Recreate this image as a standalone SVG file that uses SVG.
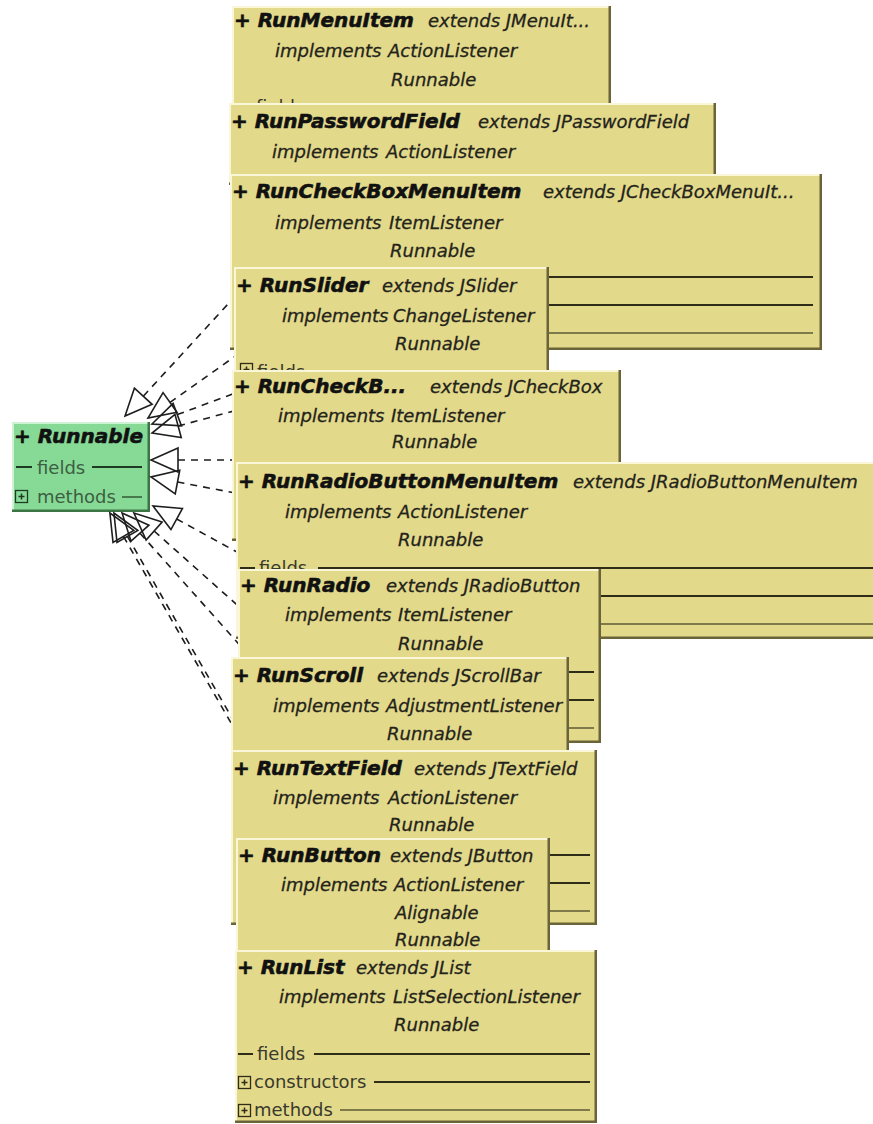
<svg xmlns="http://www.w3.org/2000/svg" xmlns:xlink="http://www.w3.org/1999/xlink" width="873" height="1124" viewBox="0 0 873 1124">
<style>
text{font-family:"DejaVu Sans","Liberation Sans",sans-serif}
.bg{fill:#e2d98b}
.hl{fill:none;stroke:#faf6d8;stroke-width:2}
.sh{fill:none;stroke:#6a6438;stroke-width:2.5}
.gbg{fill:#86da96}
.ghl{fill:none;stroke:#cdf3d4;stroke-width:2}
.gsh{fill:none;stroke:#3c7444;stroke-width:2.5}
.t{font-size:20px;font-weight:bold;font-style:italic;fill:#111;stroke:#111;stroke-width:0.6}
.i{font-size:18px;font-style:italic;fill:#24231a;stroke:#24231a;stroke-width:0.3}
.s{font-size:18px;fill:#3a392c}
.gs{font-size:18px;fill:#3d5e42}
.l1{stroke:#2f2c18;stroke-width:2}
.l3{stroke:#5e5a34;stroke-width:1.5}
.g1{stroke:#1e3a22;stroke-width:2}
.g3{stroke:#2f5a36;stroke-width:1.5}
.dep{stroke:#1c1c1c;stroke-width:1.6;stroke-dasharray:7 6;fill:none}
</style>
<defs>
<marker id="tri" markerUnits="userSpaceOnUse" markerWidth="32" markerHeight="28" viewBox="-2 -14 32 28" refX="27" refY="0" orient="auto">
<path d="M27,-12 L0,0 L27,12 Z" fill="none" stroke="#1e1e1e" stroke-width="1.6" stroke-dasharray="none"/>
</marker>
<g id="plus"><rect x="0.5" y="0.5" width="12" height="12" fill="none" stroke="#2f2c18" stroke-width="1.3"/><path d="M3.5 6.5h6M6.5 3.5v6" stroke="#2f2c18" stroke-width="1.5"/></g>
<g id="gplus"><rect x="0.5" y="0.5" width="12" height="12" fill="none" stroke="#1e3a22" stroke-width="1.3"/><path d="M3.5 6.5h6M6.5 3.5v6" stroke="#1e3a22" stroke-width="1.5"/></g>
</defs>
<rect width="873" height="1124" fill="#ffffff"/>

<g id="Runnable">
<rect class="gbg" x="12" y="422" width="138" height="90"/>
<path class="ghl" d="M13,512 V423 H150"/>
<path class="gsh" d="M148.75,422 V510.75 H12"/>
<text class="t" x="14" y="443">+ Runnable</text>
<line class="g1" x1="16" y1="467" x2="32" y2="467"/>
<text class="gs" x="37" y="474">fields</text>
<line class="g1" x1="92" y1="467" x2="142" y2="467"/>
<use xlink:href="#gplus" x="15" y="490"/>
<text class="gs" x="37" y="503">methods</text>
<line class="g3" x1="122" y1="497" x2="142" y2="497"/>
</g>

<g id="connectors">
<line class="dep" x1="143.3" y1="396.2" x2="240" y2="291" marker-start="url(#tri)"/>
<line class="dep" x1="170" y1="402.4" x2="238" y2="354.2" marker-start="url(#tri)"/>
<line class="dep" x1="177.3" y1="414.6" x2="240" y2="391.3" marker-start="url(#tri)"/>
<line class="dep" x1="178.1" y1="426" x2="240" y2="409.3" marker-start="url(#tri)"/>
<line class="dep" x1="178" y1="460" x2="242" y2="460" marker-start="url(#tri)"/>
<line class="dep" x1="177.5" y1="482" x2="242" y2="494.3" marker-start="url(#tri)"/>
<line class="dep" x1="176.7" y1="519" x2="245" y2="556.4" marker-start="url(#tri)"/>
<line class="dep" x1="154.1" y1="531" x2="245" y2="612" marker-start="url(#tri)"/>
<line class="dep" x1="140" y1="533.2" x2="245" y2="651" marker-start="url(#tri)"/>
<line class="dep" x1="127.4" y1="536.4" x2="236" y2="725" marker-start="url(#tri)"/>
<line class="dep" x1="123.4" y1="536.4" x2="238" y2="735" marker-start="url(#tri)"/>
</g>

<g id="RunMenuItem">
<rect class="bg" x="232" y="6" width="379" height="174"/>
<path class="hl" d="M233,180 V7 H611"/>
<path class="sh" d="M609.75,6 V178.75 H232"/>
<text class="t" x="234" y="27">+ RunMenuItem</text>
<text class="i" x="428" y="27">extends JMenuIt...</text>
<text class="i" x="275" y="57">implements</text>
<text class="i" x="388" y="57">ActionListener</text>
<text class="i" x="391" y="86">Runnable</text>
<line class="l1" x1="236" y1="107" x2="251" y2="107"/>
<text class="s" x="256" y="113">fields</text>
</g>

<g id="RunPasswordField">
<rect class="bg" x="229" y="103" width="487" height="82"/>
<path class="hl" d="M230,185 V104 H716"/>
<path class="sh" d="M714.75,103 V183.75 H229"/>
<text class="t" x="231" y="128">+ RunPasswordField</text>
<text class="i" x="478" y="128">extends JPasswordField</text>
<text class="i" x="272" y="158">implements</text>
<text class="i" x="386" y="158">ActionListener</text>
</g>

<g id="RunCheckBoxMenuItem">
<rect class="bg" x="230" y="174" width="592" height="176"/>
<path class="hl" d="M231,350 V175 H822"/>
<path class="sh" d="M820.75,174 V348.75 H230"/>
<text class="t" x="232" y="198">+ RunCheckBoxMenuItem</text>
<text class="i" x="543" y="198">extends JCheckBoxMenuIt...</text>
<text class="i" x="275" y="229">implements</text>
<text class="i" x="389" y="229">ItemListener</text>
<text class="i" x="390" y="257">Runnable</text>
<line class="l1" x1="300" y1="277" x2="813" y2="277"/>
<line class="l1" x1="300" y1="305" x2="813" y2="305"/>
<line class="l3" x1="300" y1="333" x2="813" y2="333"/>
</g>

<g id="RunSlider">
<rect class="bg" x="234" y="267" width="315" height="178"/>
<path class="hl" d="M235,445 V268 H549"/>
<path class="sh" d="M547.75,267 V443.75 H234"/>
<text class="t" x="236" y="292">+ RunSlider</text>
<text class="i" x="382" y="292">extends JSlider</text>
<text class="i" x="282" y="322">implements</text>
<text class="i" x="393" y="322">ChangeListener</text>
<text class="i" x="395" y="350">Runnable</text>
<use xlink:href="#plus" x="240" y="363"/>
<text class="s" x="257" y="378">fields</text>
</g>

<g id="RunCheckB">
<rect class="bg" x="232" y="370" width="389" height="171"/>
<path class="hl" d="M233,541 V371 H621"/>
<path class="sh" d="M619.75,370 V539.75 H232"/>
<text class="t" x="234" y="393">+ RunCheckB...</text>
<text class="i" x="430" y="393">extends JCheckBox</text>
<text class="i" x="278" y="422">implements</text>
<text class="i" x="391" y="422">ItemListener</text>
<text class="i" x="392" y="448">Runnable</text>
</g>

<g id="RunRadioButtonMenuItem">
<rect class="bg" x="236" y="462" width="669" height="177"/>
<path class="hl" d="M237,639 V463 H905"/>
<path class="sh" d="M903.75,462 V637.75 H236"/>
<text class="t" x="238" y="488">+ RunRadioButtonMenuItem</text>
<text class="i" x="573" y="488">extends JRadioButtonMenuItem</text>
<text class="i" x="285" y="518">implements</text>
<text class="i" x="398" y="518">ActionListener</text>
<text class="i" x="398" y="546">Runnable</text>
<line class="l1" x1="240" y1="568" x2="255" y2="568"/>
<text class="s" x="259" y="574">fields</text>
<line class="l1" x1="318" y1="568" x2="905" y2="568"/>
<line class="l1" x1="300" y1="596" x2="905" y2="596"/>
<line class="l3" x1="300" y1="624" x2="905" y2="624"/>
</g>

<g id="RunRadio">
<rect class="bg" x="238" y="569" width="363" height="174"/>
<path class="hl" d="M239,743 V570 H601"/>
<path class="sh" d="M599.75,569 V741.75 H238"/>
<text class="t" x="240" y="592">+ RunRadio</text>
<text class="i" x="386" y="592">extends JRadioButton</text>
<text class="i" x="285" y="621">implements</text>
<text class="i" x="398" y="621">ItemListener</text>
<text class="i" x="398" y="650">Runnable</text>
<line class="l1" x1="540" y1="672" x2="594" y2="672"/>
<line class="l1" x1="540" y1="700" x2="594" y2="700"/>
<line class="l3" x1="540" y1="728" x2="594" y2="728"/>
</g>

<g id="RunScroll">
<rect class="bg" x="231" y="657" width="338" height="103"/>
<path class="hl" d="M232,760 V658 H569"/>
<path class="sh" d="M567.75,657 V758.75 H231"/>
<text class="t" x="233" y="682">+ RunScroll</text>
<text class="i" x="377" y="682">extends JScrollBar</text>
<text class="i" x="273" y="712">implements</text>
<text class="i" x="386" y="712">AdjustmentListener</text>
<text class="i" x="387" y="740">Runnable</text>
</g>

<g id="RunTextField">
<rect class="bg" x="231" y="750" width="366" height="175"/>
<path class="hl" d="M232,925 V751 H597"/>
<path class="sh" d="M595.75,750 V923.75 H231"/>
<text class="t" x="233" y="775">+ RunTextField</text>
<text class="i" x="414" y="775">extends JTextField</text>
<text class="i" x="273" y="804">implements</text>
<text class="i" x="388" y="804">ActionListener</text>
<text class="i" x="389" y="831">Runnable</text>
<line class="l1" x1="520" y1="855" x2="590" y2="855"/>
<line class="l1" x1="520" y1="883" x2="590" y2="883"/>
<line class="l3" x1="520" y1="911" x2="590" y2="911"/>
</g>

<g id="RunButton">
<rect class="bg" x="236" y="838" width="314" height="122"/>
<path class="hl" d="M237,960 V839 H550"/>
<path class="sh" d="M548.75,838 V958.75 H236"/>
<text class="t" x="238" y="862">+ RunButton</text>
<text class="i" x="390" y="862">extends JButton</text>
<text class="i" x="281" y="891">implements</text>
<text class="i" x="394" y="891">ActionListener</text>
<text class="i" x="395" y="919">Alignable</text>
<text class="i" x="395" y="946">Runnable</text>
</g>

<g id="RunList">
<rect class="bg" x="235" y="950" width="362" height="173"/>
<path class="hl" d="M236,1123 V951 H597"/>
<path class="sh" d="M595.75,950 V1121.75 H235"/>
<text class="t" x="237" y="974">+ RunList</text>
<text class="i" x="356" y="974">extends JList</text>
<text class="i" x="279" y="1003">implements</text>
<text class="i" x="393" y="1003">ListSelectionListener</text>
<text class="i" x="394" y="1031">Runnable</text>
<line class="l1" x1="238" y1="1054" x2="253" y2="1054"/>
<text class="s" x="257" y="1060">fields</text>
<line class="l1" x1="314" y1="1054" x2="590" y2="1054"/>
<use xlink:href="#plus" x="238" y="1076"/>
<text class="s" x="254" y="1088">constructors</text>
<line class="l1" x1="374" y1="1082" x2="590" y2="1082"/>
<use xlink:href="#plus" x="238" y="1104"/>
<text class="s" x="254" y="1116">methods</text>
<line class="l3" x1="340" y1="1110" x2="590" y2="1110"/>
</g>
</svg>
